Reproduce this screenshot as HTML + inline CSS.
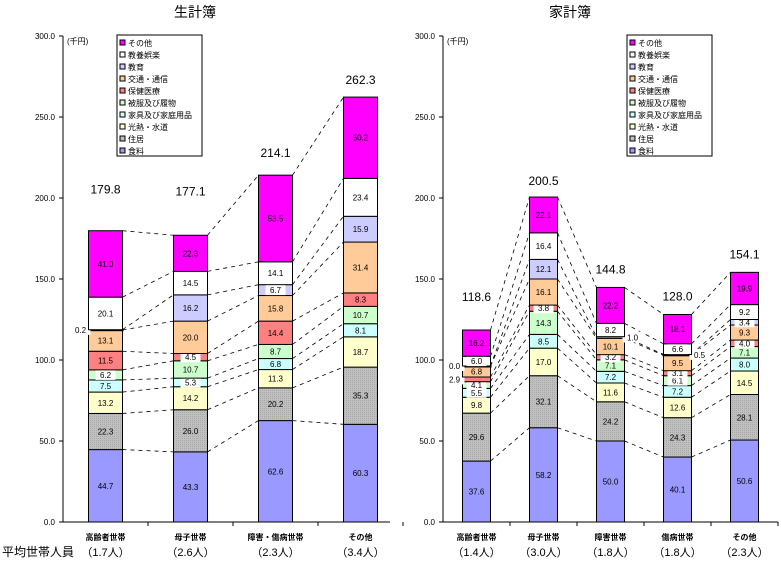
<!DOCTYPE html>
<html><head><meta charset="utf-8">
<style>
body{margin:0;background:#fff;}
svg{display:block;font-family:"Liberation Sans","Noto Sans CJK JP",sans-serif;}
</style></head>
<body>
<svg id="c" width="781" height="562"></svg>
<script>
const series = ["食料","住居","光熱・水道","家具及び家庭用品","被服及び履物","保健医療","交通・通信","教育","教養娯楽","その他"];
const colors = ["#9999ff","#c0c0c0","#ffffcc","#ccffff","#ccffcc","#ff8080","#ffcc99","#ccccff","#ffffff","#ff00ff"];
const yTicks = [0,50,100,150,200,250,300];

const cats1 = ["高齢者世帯","母子世帯","障害・傷病世帯","その他"];
const members1 = ["（1.7人）","（2.6人）","（2.3人）","（3.4人）"];
const totals1 = ["179.8","177.1","214.1","262.3"];
const vals1 = [
  [44.7,22.3,13.2,7.5,6.2,11.5,13.1,0.2,20.1,41.0],
  [43.3,26.0,14.2,5.3,10.7,4.5,20.0,16.2,14.5,22.3],
  [62.6,20.2,11.3,6.8,8.7,14.4,15.8,6.7,14.1,53.5],
  [60.3,35.3,18.7,8.1,10.7,8.3,31.4,15.9,23.4,50.2]
];
const cats2 = ["高齢者世帯","母子世帯","障害世帯","傷病世帯","その他"];
const members2 = ["（1.4人）","（3.0人）","（1.8人）","（1.8人）","（2.3人）"];
const totals2 = ["118.6","200.5","144.8","128.0","154.1"];
const vals2 = [
  [37.6,29.6,9.8,5.5,4.1,2.9,6.8,0.0,6.0,16.2],
  [58.2,32.1,17.0,8.5,14.3,3.8,16.1,12.1,16.4,22.1],
  [50.0,24.2,11.6,7.2,7.1,3.2,10.1,1.0,8.2,22.2],
  [40.1,24.3,12.6,7.2,6.1,3.1,9.5,0.5,6.6,18.1],
  [50.6,28.1,14.5,8.0,7.1,4.0,9.3,3.4,9.2,19.9]
];

const NS="http://www.w3.org/2000/svg";
const svg=document.getElementById('c');
function el(tag,attrs,parent){const e=document.createElementNS(NS,tag);for(const k in attrs)e.setAttribute(k,attrs[k]);(parent||svg).appendChild(e);return e;}
function txt(x,y,s,size,anchor,parent,extra){const t=el('text',Object.assign({x:x,y:y,'font-size':size,'text-anchor':anchor||'middle'},extra||{}),parent);t.textContent=s;return t;}

const defs=el('defs',{});
const pat=el('pattern',{id:'hatch',width:2,height:2,patternUnits:'userSpaceOnUse'},defs);
el('rect',{width:2,height:2,fill:'#c0c0c0'},pat);
el('rect',{width:1,height:1,fill:'#a8a8a8'},pat);

function drawChart(o){
  const g=el('g',{});
  
  
  const y0=522, ppu=486/300;
  const Y=v=>y0-v*ppu;
  const X=i=>o.x0+o.step*(i+0.5);
  const t=txt(o.titleX,17,o.title,14,'middle',g);
  
  
  el('line',{x1:o.axisX,y1:36,x2:o.axisX,y2:y0,stroke:'#000'},g);
  el('line',{x1:o.axisX,y1:y0,x2:o.axisEnd,y2:y0,stroke:'#000'},g);
  yTicks.forEach(v=>{
    el('line',{x1:o.axisX-4,y1:Y(v),x2:o.axisX,y2:Y(v),stroke:'#000'},g);
    const l=txt(o.axisX-8,Y(v)+3,v.toFixed(1),8,'end',g);
    
    
  });
  for(let i=1;i<=o.cats.length;i++){el('line',{x1:o.x0+o.step*i,y1:y0,x2:o.x0+o.step*i,y2:y0+4,stroke:'#000'},g);}
  txt(o.axisX+4,44,'(千円)',8,'start',g);
  const hw=o.bw/2;
  for(let i=0;i<o.vals.length-1;i++){
    let a=0,b=0;
    for(let s=0;s<series.length;s++){
      a+=o.vals[i][s];b+=o.vals[i+1][s];
      const ln=el('line',{x1:X(i)+hw,y1:Y(a),x2:X(i+1)-hw,y2:Y(b),stroke:'#000','stroke-width':0.8,'stroke-dasharray':'4,4'},g);
      
      
    }
  }
  o.vals.forEach((row,i)=>{
    let c=0;
    row.forEach((v,s)=>{
      const r=el('rect',{x:X(i)-hw,y:Y(c+v),width:o.bw,height:Math.max(v*ppu,0.5),fill:s==1?'url(#hatch)':colors[s],stroke:'#000','stroke-width':v<0.6?2:1},g);
      
      
      const cy=Y(c+v/2)+3;
      const lab=v.toFixed(1);
      const tiny=v*ppu<5;
      let lx=X(i);
      if(tiny){ lx = i==0 ? X(i)-hw-8 : X(i)+hw+8; }
      if(v*ppu<11){
        el('rect',{x:lx-10,y:cy-9,width:20,height:11,fill:'#fff'},g);
      }
      txt(lx,cy,lab,8,'middle',g);
      c+=v;
    });
    const tl=txt(X(i),Y(c)-o.gaps[i],o.totals[i],12,'middle',g);
    
    
    const cl=txt(X(i),540,o.cats[i],8,'middle',g,{'font-weight':'bold'});
    
    
    txt(X(i),556,o.members[i],11,'middle',g);
  });
  const lg=el('g',{},g);
  
  
  el('rect',{x:o.legX,y:o.legY,width:o.legW,height:121,fill:'#fff',stroke:'#000'},lg);
  for(let k=0;k<series.length;k++){
    const s=series.length-1-k;
    const yy=o.legY+5+k*12;
    el('rect',{x:o.legX+3,y:yy,width:5,height:5,fill:s==1?'#c0c0c0':colors[s],stroke:'#000'},lg);
    txt(o.legX+11,yy+6,series[s],8,'start',lg);
  }
}
drawChart({name:'seikeibo-chart',title:'生計簿',titleX:195,x0:63,step:85,bw:34,axisX:63,axisEnd:390,cats:cats1,members:members1,totals:totals1,vals:vals1,gaps:[37,40,18,13],legX:117,legY:35,legW:85});
drawChart({name:'kakeibo-chart',title:'家計簿',titleX:570,x0:443,step:67,bw:28,axisX:443,axisEnd:778,cats:cats2,members:members2,totals:totals2,vals:vals2,gaps:[29,12,14,14,14],legX:627,legY:35,legW:85});
const p=txt(2,556,'平均世帯人員',12,'start');


</script>
</body></html>
